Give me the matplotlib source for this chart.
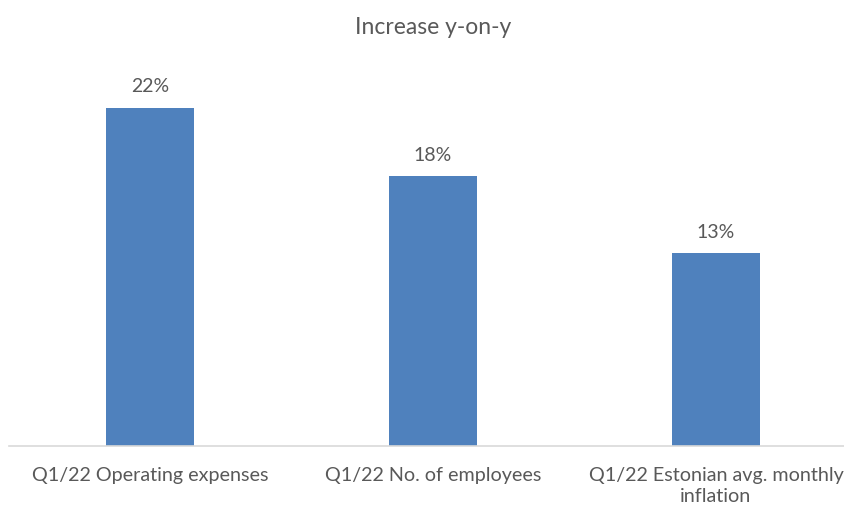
import matplotlib.pyplot as plt

categories = ["Q1/22 Operating expenses", "Q1/22 No. of employees", "Q1/22 Estonian avg. monthly\ninflation"]
values = [22.3, 17.8, 12.7]  # percent increase y-on-y

txt = "#595959"
plt.rcParams['font.family'] = ['Lato', 'DejaVu Sans']

fig = plt.figure(figsize=(8.45, 5.08), dpi=100)
# plot area spans a bit past the right edge, like the cropped original
ax = fig.add_axes([8.5 / 845, 62 / 508, 849 / 845, 379 / 508])

x = list(range(len(categories)))
bars = ax.bar(x, values, width=0.31, color="#4F81BD", zorder=2)
for b, v in zip(bars, values):
    ax.annotate(f"{v:.0f}%", (b.get_x() + b.get_width() / 2, v), xytext=(0, 9),
                textcoords="offset points", ha="center", va="bottom",
                fontsize=14, color=txt)

ax.set_xlim(-0.5, 2.5)
ax.set_ylim(0, 25)
ax.set_yticks([])
ax.set_xticks(x)
ax.set_xticklabels(categories, fontsize=14.2, color=txt, linespacing=1.3)
ax.tick_params(axis="x", length=0, pad=15)
for s in ["top", "right", "left"]:
    ax.spines[s].set_visible(False)
ax.spines["bottom"].set_color("#D9D9D9")
ax.spines["bottom"].set_linewidth(1.2)

fig.text(433 / 845, 1 - 27 / 508, "Increase y-on-y", ha="center", va="center",
         fontsize=16.5, color=txt)

fig.savefig("out.png", dpi=100)
